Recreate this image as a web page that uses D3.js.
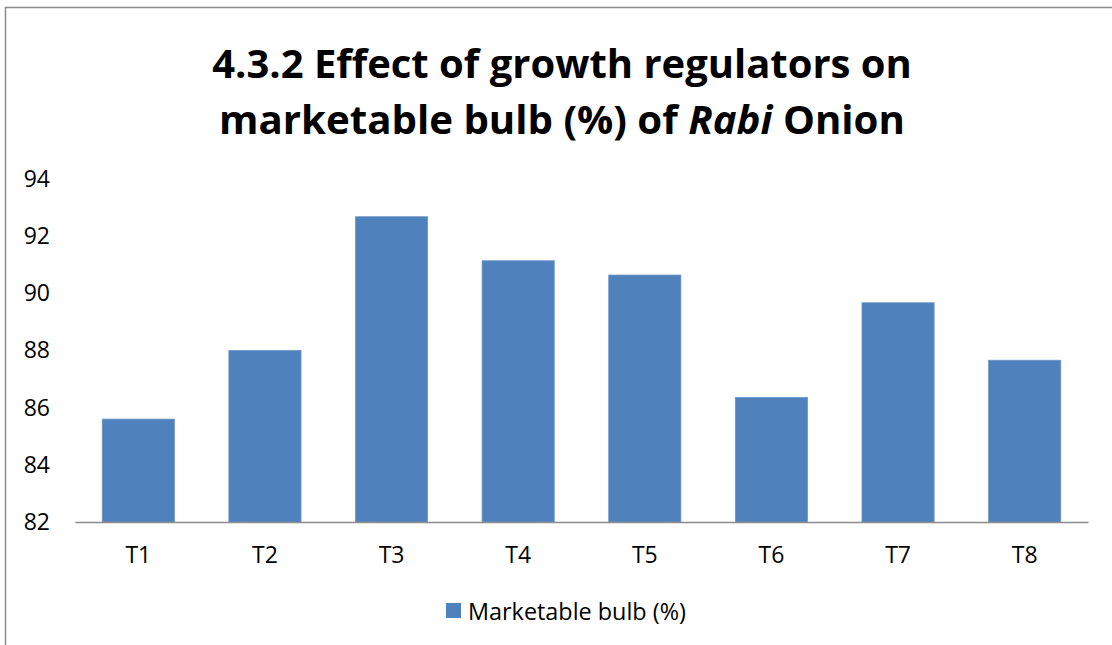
<!DOCTYPE html>
<html>
<head>
<meta charset="utf-8">
<script src="https://cdn.jsdelivr.net/npm/d3@7"></script>
<style>
  body { margin: 0; background: #fff; }
  svg { display: block; font-family: "Open Sans", "Liberation Sans", sans-serif; }
</style>
</head>
<body>
<svg class="chart"></svg>
<script>
var width = 1112, height = 645;

// data
var categories = ["T1", "T2", "T3", "T4", "T5", "T6", "T7", "T8"];
var values = [85.6, 88.0, 92.68, 91.14, 90.64, 86.36, 89.67, 87.66];
var yTicks = [82, 84, 86, 88, 90, 92, 94];
var seriesName = "Marketable bulb (%)";

var chart = d3.select(".chart")
    .attr("width", width)
    .attr("height", height);

// outer chart frame (runs off the right and bottom edges)
chart.append("rect")
    .attr("x", 5.5).attr("y", 7.5)
    .attr("width", 1200).attr("height", 700)
    .attr("fill", "none")
    .attr("stroke", "#8c8c8c")
    .attr("stroke-width", 1.5);

var plotLeft = 75, plotRight = 1088, plotTop = 179, plotBottom = 522;

var x_scale = d3.scaleBand()
    .domain(categories)
    .range([plotLeft, plotRight])
    .paddingInner(0.43)
    .paddingOuter(0.215);

var y_scale = d3.scaleLinear()
    .domain([82, 94])
    .range([plotBottom, plotTop]);

// bars
chart.append("g")
    .selectAll("rect")
    .data(values)
    .enter().append("rect")
    .attr("x", function(d, i) { return x_scale(categories[i]); })
    .attr("y", function(d) { return y_scale(d); })
    .attr("width", x_scale.bandwidth())
    .attr("height", function(d) { return y_scale(82) - y_scale(d); })
    .attr("fill", "#4f81bd")
    .attr("stroke", "#6c96c9")
    .attr("stroke-width", 0.8);

// y axis labels only, no line
var y_axis = d3.axisLeft(y_scale)
    .tickValues(yTicks)
    .tickSize(0)
    .tickPadding(0);

var gy = chart.append("g")
    .attr("transform", "translate(50,0)")
    .call(y_axis);
gy.select(".domain").remove();
gy.selectAll("text")
    .attr("font-family", "Open Sans, sans-serif")
    .attr("font-size", 23)
    .attr("fill", "#000");

// x axis
var x_axis = d3.axisBottom(x_scale)
    .tickSize(0)
    .tickPadding(25);

var gx = chart.append("g")
    .attr("transform", "translate(0," + plotBottom + ")")
    .call(x_axis);
gx.select(".domain")
    .attr("stroke", "#8c8c8c")
    .attr("stroke-width", 1.6);
gx.selectAll("text")
    .attr("font-family", "Open Sans, sans-serif")
    .attr("font-size", 23)
    .attr("fill", "#000");

// title, two lines, fitted to the widths in the picture
var title1 = chart.append("text")
    .attr("x", 562).attr("y", 78)
    .attr("text-anchor", "middle")
    .attr("font-weight", "bold")
    .attr("font-size", 40)
    .text("4.3.2 Effect of growth regulators on");

var title2 = chart.append("text")
    .attr("x", 562).attr("y", 134)
    .attr("text-anchor", "middle")
    .attr("font-weight", "bold")
    .attr("font-size", 40);
title2.append("tspan").text("marketable bulb (%) of ");
title2.append("tspan").attr("font-style", "italic").text("Rabi");
title2.append("tspan").text(" Onion");

function fit(sel, target) {
    var w = sel.node().getComputedTextLength();
    var fs = +sel.attr("font-size");
    sel.attr("font-size", fs * target / w);
}
fit(title1, 700);
fit(title2, 686);

// legend
var legend = chart.append("g").attr("transform", "translate(446,603)");
legend.append("rect")
    .attr("width", 15).attr("height", 15)
    .attr("fill", "#4f81bd");
var legendText = legend.append("text")
    .attr("x", 22).attr("y", 17)
    .attr("font-size", 22)
    .text(seriesName);
fit(legendText, 218);
</script>
</body>
</html>
